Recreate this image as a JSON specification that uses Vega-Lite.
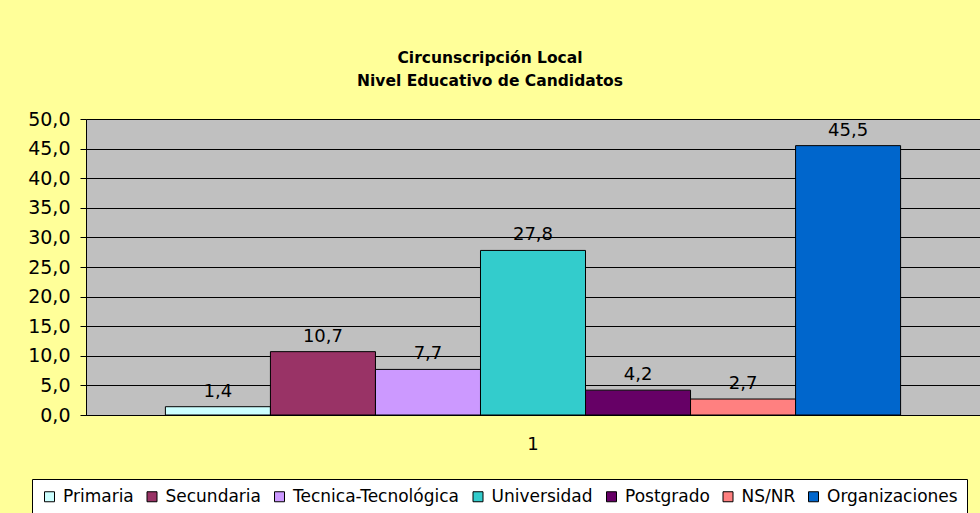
{
  "$schema": "https://vega.github.io/schema/vega-lite/v6.json",
  "autosize": "none",
  "width": 894,
  "height": 296,
  "padding": {"left": 86, "top": 119, "right": 0, "bottom": 98},
  "background": "#FFFF99",
  "title": {
    "text": ["Circunscripción Local", "Nivel Educativo de Candidatos"],
    "font": "DejaVu Sans",
    "fontSize": 15.5,
    "fontWeight": "bold",
    "color": "#000000",
    "lineHeight": 23,
    "anchor": "middle",
    "dx": -43,
    "offset": 21
  },
  "data": {
    "values": [
      {"cat": "1", "serie": "Primaria", "valor": 1.4},
      {"cat": "1", "serie": "Secundaria", "valor": 10.7},
      {"cat": "1", "serie": "Tecnica-Tecnológica", "valor": 7.7},
      {"cat": "1", "serie": "Universidad", "valor": 27.8},
      {"cat": "1", "serie": "Postgrado", "valor": 4.2},
      {"cat": "1", "serie": "NS/NR", "valor": 2.7},
      {"cat": "1", "serie": "Organizaciones", "valor": 45.5}
    ]
  },
  "encoding": {
    "x": {
      "field": "cat",
      "type": "nominal",
      "scale": {"paddingInner": 0, "paddingOuter": 0.108},
      "axis": {
        "title": null,
        "labelAngle": 0,
        "ticks": false,
        "domainColor": "#000000",
        "labelFont": "DejaVu Sans",
        "labelFontSize": 18,
        "labelColor": "#000000",
        "labelPadding": 20,
        "grid": false
      }
    },
    "xOffset": {
      "field": "serie",
      "type": "nominal",
      "sort": null,
      "scale": {"paddingInner": 0, "paddingOuter": 0}
    },
    "y": {
      "field": "valor",
      "type": "quantitative",
      "scale": {"domain": [0, 50], "nice": false},
      "axis": {
        "title": null,
        "values": [0, 5, 10, 15, 20, 25, 30, 35, 40, 45, 50],
        "format": ".1f",
        "grid": true,
        "gridColor": "#000000",
        "gridOpacity": 1,
        "domainColor": "#000000",
        "tickColor": "#000000",
        "tickSize": 6,
        "labelPadding": 10,
        "labelFont": "DejaVu Sans",
        "labelFontSize": 19,
        "labelColor": "#000000"
      }
    }
  },
  "layer": [
    {
      "mark": {"type": "bar", "stroke": "#000000", "strokeWidth": 1},
      "encoding": {
        "color": {
          "field": "serie",
          "type": "nominal",
          "scale": {
            "domain": ["Primaria", "Secundaria", "Tecnica-Tecnológica", "Universidad", "Postgrado", "NS/NR", "Organizaciones"],
            "range": ["#CCFFFF", "#993366", "#CC99FF", "#33CCCC", "#660066", "#FF8080", "#0066CC"]
          },
          "legend": {
            "title": null,
            "orient": "none",
            "legendX": -54,
            "legendY": 360,
            "direction": "horizontal",
            "columns": 7,
            "fillColor": "#FFFFFF",
            "strokeColor": "#000000",
            "padding": 9,
            "symbolType": "square",
            "symbolSize": 100,
            "symbolStrokeColor": "#000000",
            "symbolStrokeWidth": 1,
            "labelFont": "DejaVu Sans",
            "labelFontSize": 17,
            "labelColor": "#000000",
            "labelOffset": 5,
            "columnPadding": 9.5,
            "labelLimit": 300
          }
        }
      }
    },
    {
      "mark": {
        "type": "text",
        "baseline": "bottom",
        "dy": -6,
        "font": "DejaVu Sans",
        "fontSize": 18,
        "color": "#000000"
      },
      "encoding": {
        "text": {"field": "valor", "type": "quantitative", "format": ".1f"}
      }
    }
  ],
  "config": {
    "locale": {
      "number": {"decimal": ",", "thousands": ".", "grouping": [3], "currency": ["", " €"]}
    },
    "view": {"fill": "#C0C0C0", "stroke": "#808080"}
  }
}
